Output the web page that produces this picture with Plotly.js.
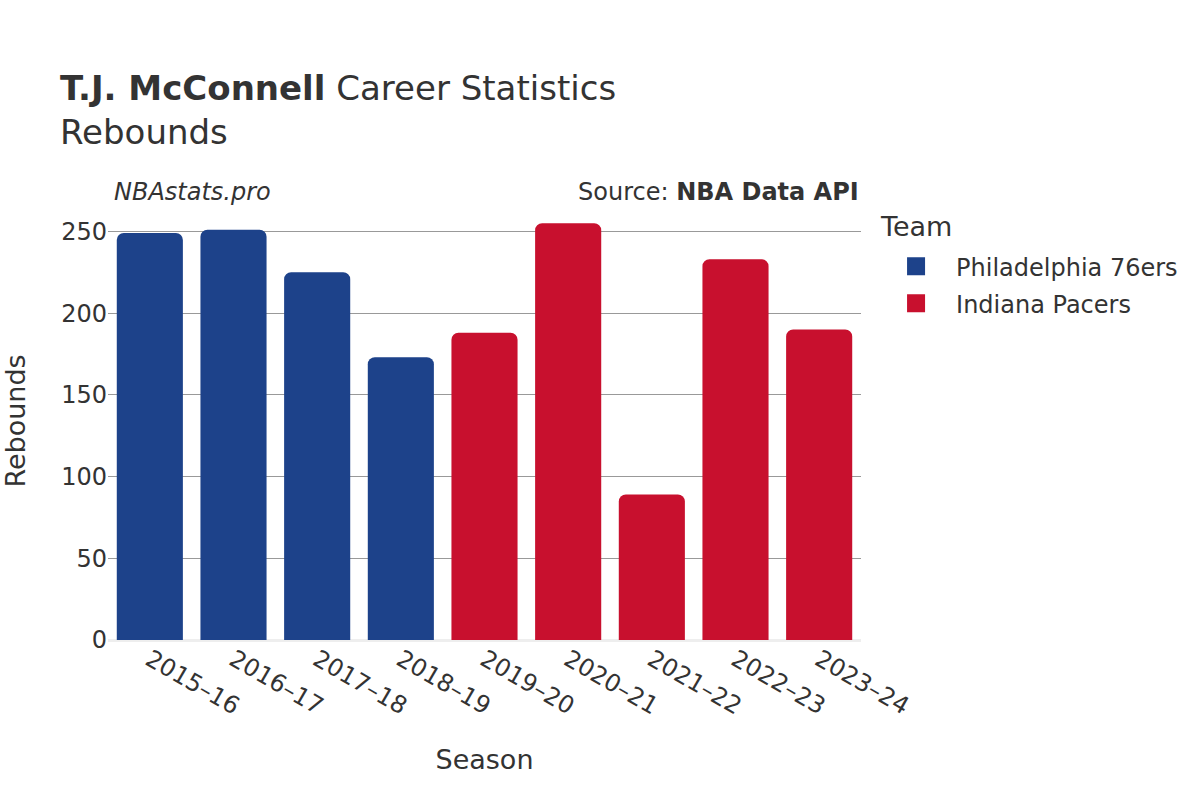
<!DOCTYPE html>
<html>
<head>
<meta charset="utf-8">
<script src="https://cdn.plot.ly/plotly-3.0.1.min.js"></script>
<style>html,body{margin:0;padding:0;background:#fff;}#chart{width:1200px;height:800px;}</style>
</head>
<body>
<div id="chart"></div>
<script>
const seasons76ers = ["2015–16", "2016–17", "2017–18", "2018–19"];
const rebounds76ers = [249, 251, 225, 173];
const seasonsPacers = ["2019–20", "2020–21", "2021–22", "2022–23", "2023–24"];
const reboundsPacers = [188, 255, 89, 233, 190];
const allSeasons = ["2015–16", "2016–17", "2017–18", "2018–19", "2019–20", "2020–21", "2021–22", "2022–23", "2023–24"];
const yTicks = [0, 50, 100, 150, 200, 250];
const teamNames = ["Philadelphia 76ers", "Indiana Pacers"];
const teamColors = ["#1D428A", "#C8102E"];

const font = "DejaVu Sans, sans-serif";
const traces = [
  {type: "bar", name: teamNames[0], x: seasons76ers, y: rebounds76ers, legendgroup: "a", showlegend: false,
   marker: {color: teamColors[0], cornerradius: 7}},
  {type: "bar", name: teamNames[1], x: seasonsPacers, y: reboundsPacers, legendgroup: "b", showlegend: false,
   marker: {color: teamColors[1], cornerradius: 7}},
  {type: "scatter", mode: "markers", name: teamNames[0], x: [null], y: [null], legendgroup: "a",
   marker: {symbol: "square", size: 20, color: teamColors[0], line: {width: 2, color: teamColors[0]}}},
  {type: "scatter", mode: "markers", name: teamNames[1], x: [null], y: [null], legendgroup: "b",
   marker: {symbol: "square", size: 20, color: teamColors[1], line: {width: 2, color: teamColors[1]}}}
];
const layout = {
  width: 1200, height: 800,
  paper_bgcolor: "#fff", plot_bgcolor: "#fff",
  font: {family: font, size: 24, color: "#333"},
  margin: {l: 108, r: 339, t: 202, b: 160},
  barmode: "overlay",
  bargap: 0.21,
  title: {text: "<b>T.J. McConnell</b> Career Statistics<br>Rebounds", x: 0.05, xanchor: "left", y: 0.875, yanchor: "top",
          font: {family: font, size: 34, color: "#333"}},
  xaxis: {type: "category", categoryorder: "array", categoryarray: allSeasons, tickangle: 30,
          title: {text: "Season", font: {size: 27}, standoff: 30}, showgrid: false, zeroline: false,
          tickfont: {size: 24}},
  yaxis: {title: {text: "Rebounds", font: {size: 27}, standoff: 28}, range: [0, 268], tickvals: yTicks,
          gridcolor: "#999", gridwidth: 1, zeroline: true, zerolinecolor: "#eee", zerolinewidth: 3,
          tickfont: {size: 24}, ticks: "", ticklen: 0},
  legend: {x: 1.02, y: 0.904, yanchor: "top", font: {size: 24},
           itemwidth: 70, tracegroupgap: 3},
  annotations: [
    {text: "<i>NBAstats.pro</i>", xref: "paper", yref: "paper", x: 0.005, y: 1.0, xanchor: "left", yanchor: "bottom",
     yshift: -6, showarrow: false, font: {size: 24, color: "#333"}},
    {text: "Source: <b>NBA Data API</b>", xref: "paper", yref: "paper", x: 1.0, y: 1.0, xanchor: "right", yanchor: "bottom",
     yshift: -6, showarrow: false, font: {size: 24, color: "#333"}},
    {text: "Team", xref: "paper", yref: "paper", x: 1.0226, y: 0.945, xanchor: "left", yanchor: "middle",
     showarrow: false, font: {size: 27, color: "#333"}}
  ]
};
Plotly.newPlot("chart", traces, layout, {displayModeBar: false});
</script>
</body>
</html>
